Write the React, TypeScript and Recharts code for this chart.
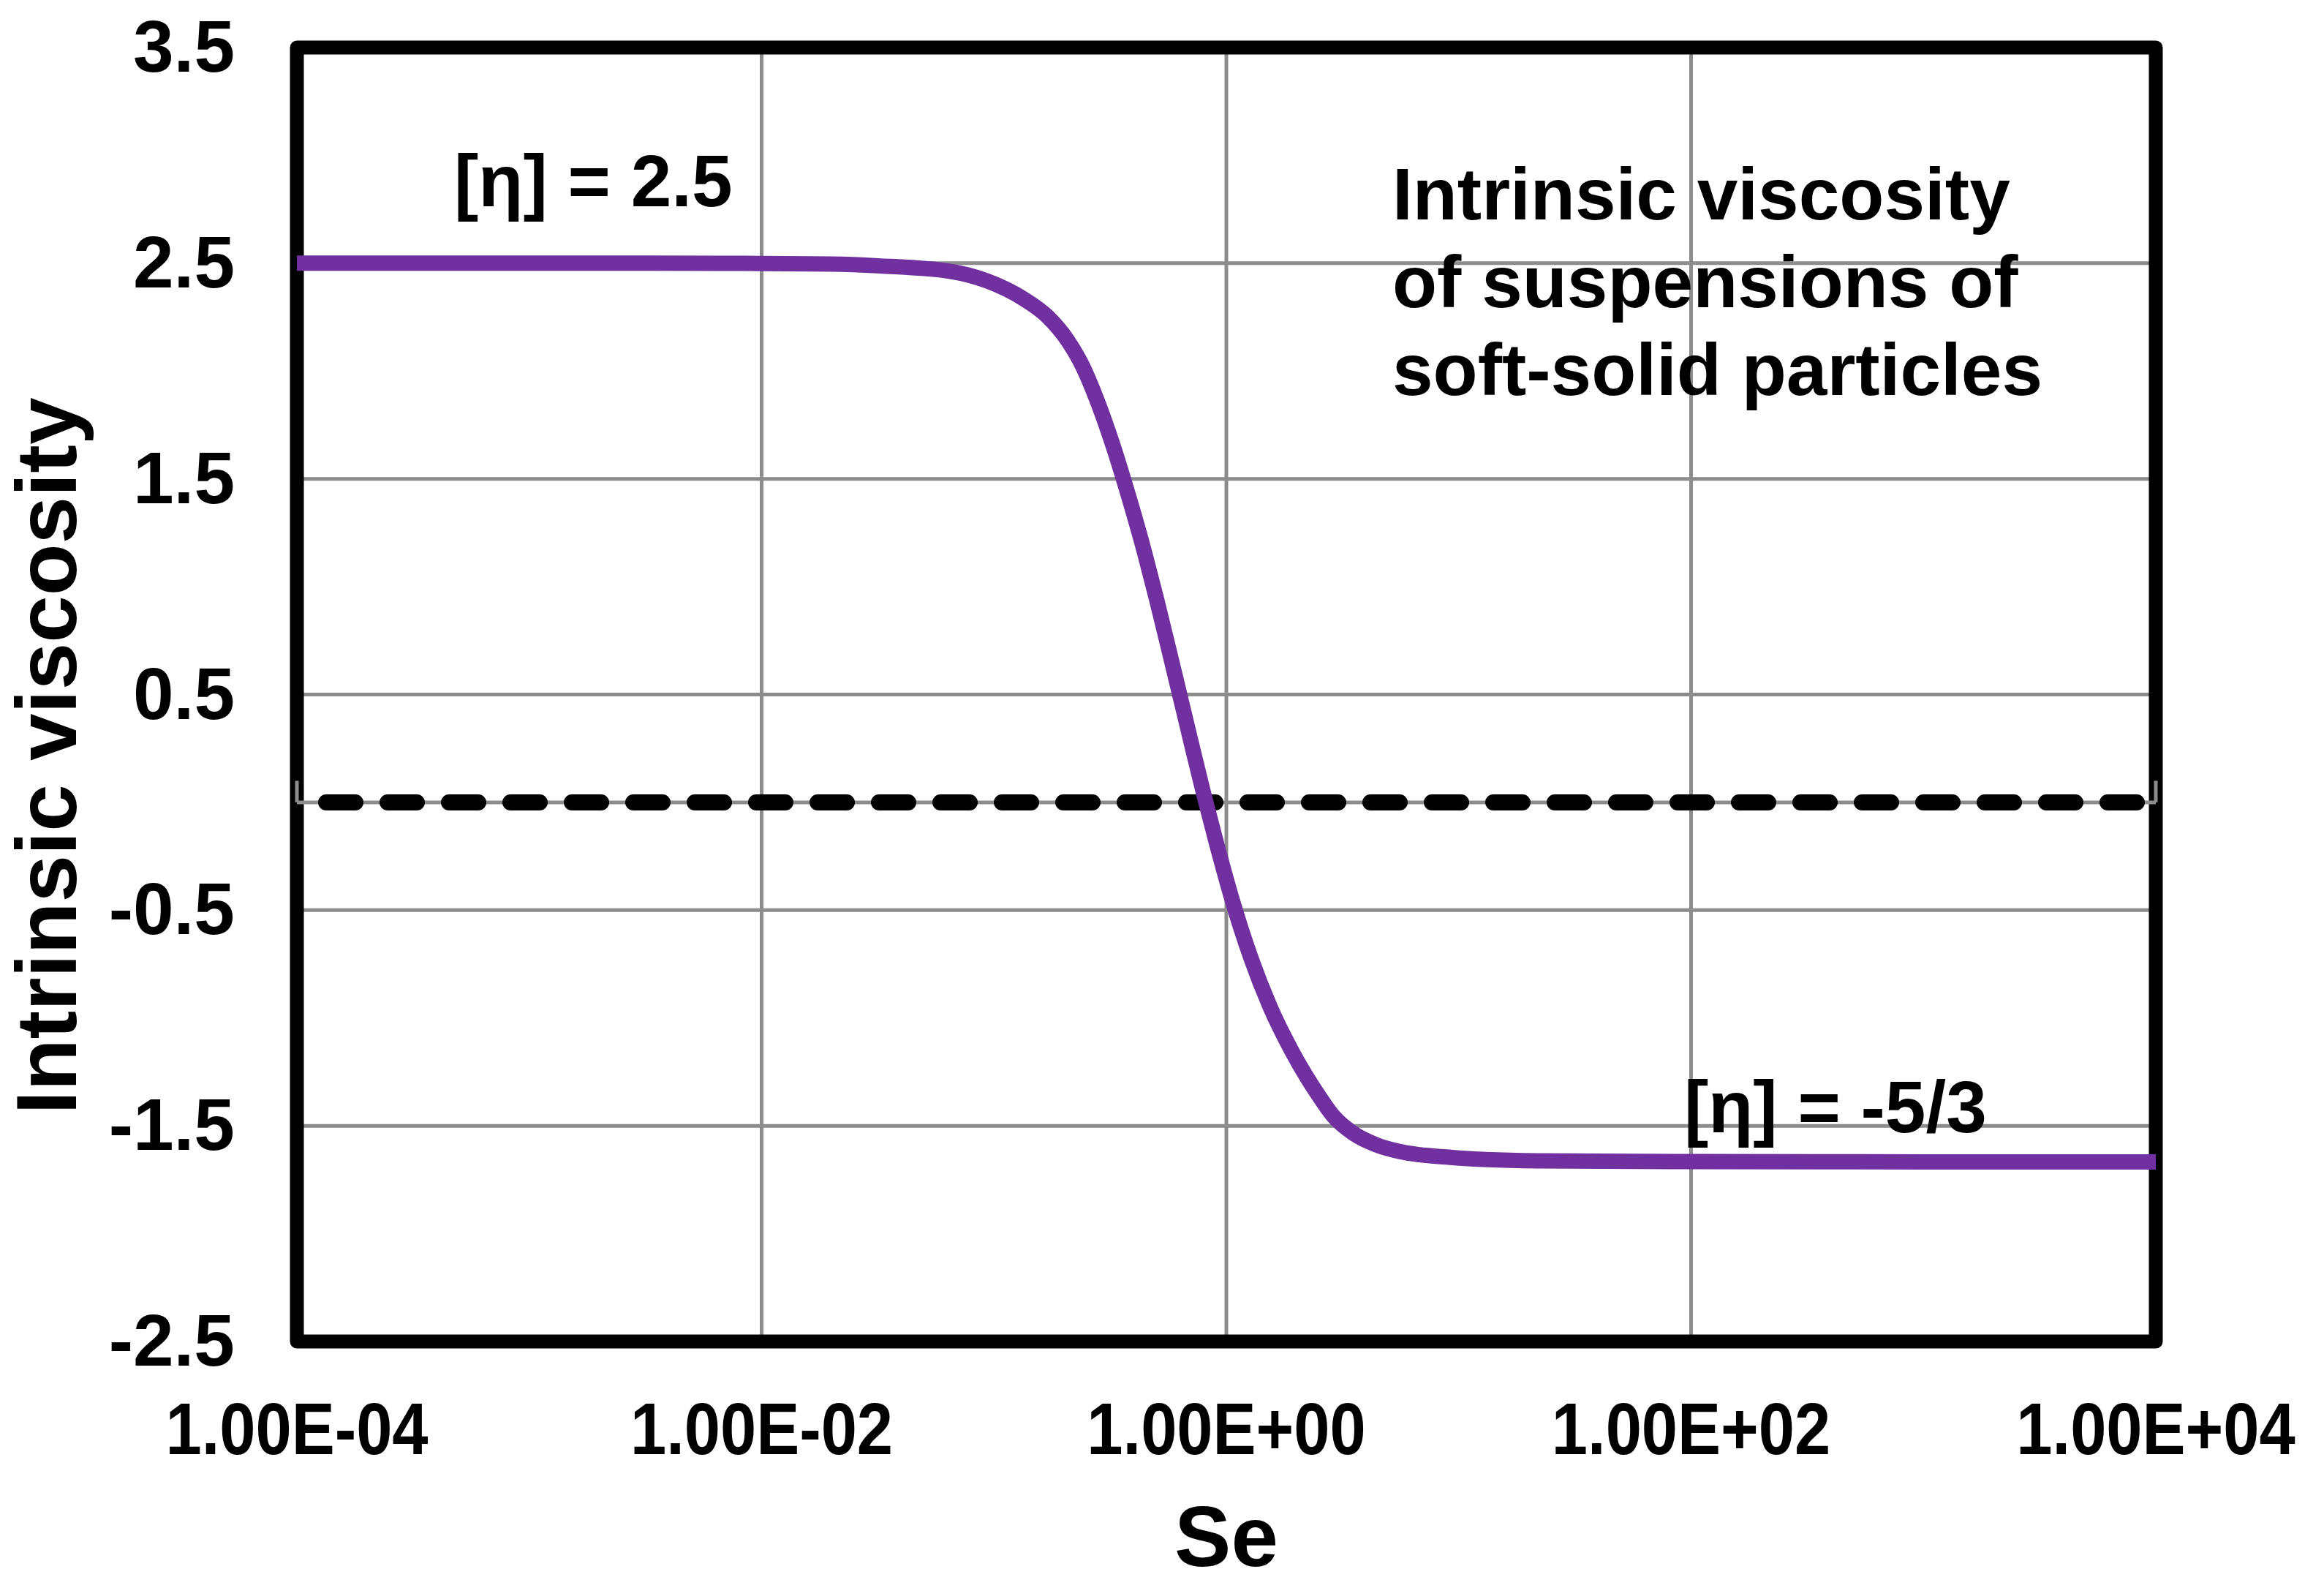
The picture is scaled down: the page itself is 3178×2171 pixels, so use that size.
import {
  CartesianGrid,
  Line,
  LineChart,
  ReferenceArea,
  ReferenceDot,
  ReferenceLine,
  XAxis,
  YAxis,
} from "recharts";

// Curve: Se (log axis) and intrinsic viscosity.
const SE = [
  1e-4, 1e-3, 3.16e-3, 0.01, 0.02, 0.0316, 0.0652, 0.0933, 0.134, 0.171, 0.208, 0.24, 0.277,
  0.324, 0.38, 0.447, 0.501, 0.562, 0.631, 0.708, 0.794, 0.906, 1.079, 1.276, 1.542, 1.901, 2.466,
  2.884, 3.5, 4.467, 5.68, 9.2, 21.4, 100, 1000, 10000,
];
const ETA = [
  2.5, 2.5, 2.5, 2.499, 2.496, 2.488, 2.462, 2.418, 2.335, 2.25, 2.14, 2.025, 1.867,
  1.66, 1.418, 1.149, 0.941, 0.721, 0.496, 0.271, 0.051, -0.188, -0.481, -0.722, -0.948, -1.148, -1.351,
  -1.454, -1.533, -1.59, -1.621, -1.646, -1.662, -1.666, -1.667, -1.667,
];

// Dashed zero reference series.
const ZERO_SE = [1e-4, 1e4];
const ZERO_ETA = [0, 0];

const X_TICKS = [1e-4, 1e-2, 1, 1e2, 1e4];
const X_TICK_LABELS = ["1.00E-04", "1.00E-02", "1.00E+00", "1.00E+02", "1.00E+04"];
const Y_TICKS = [-2.5, -1.5, -0.5, 0.5, 1.5, 2.5, 3.5];
const Y_TICK_LABELS = ["-2.5", "-1.5", "-0.5", "0.5", "1.5", "2.5", "3.5"];

// Text notes, anchored in data coordinates (left edge / first baseline).
const NOTES = [
  { se: 4.75e-4, eta: 2.765, lines: ["[η] = 2.5"] },
  { se: 93.3, eta: -1.529, lines: ["[η] = -5/3"] },
  { se: 5.18, eta: 2.703, lines: ["Intrinsic viscosity", "of suspensions of", "soft-solid particles"] },
];

const curve = SE.map((se, i) => ({ se, eta: ETA[i] }));
const zeroLine = ZERO_SE.map((se, i) => ({ se, eta: ZERO_ETA[i] }));

const FONT = '"Liberation Sans", Arial, Helvetica, sans-serif';
const PURPLE = "#7030A0";
const GRID = "#8c8c8c";

function XTick(p: any) {
  const i = X_TICKS.indexOf(p.payload?.value);
  return (
    <text
      transform={`translate(${p.x},${p.y + 154}) scale(0.885,1)`}
      textAnchor="middle"
      fontFamily={FONT}
      fontWeight={700}
      fontSize={100}
      fill="#000"
    >
      {X_TICK_LABELS[i]}
    </text>
  );
}

function YTick(p: any) {
  const i = Y_TICKS.indexOf(p.payload?.value);
  return (
    <text x={p.x - 85} y={p.y + 33} textAnchor="end" fontFamily={FONT} fontWeight={700} fontSize={100} fill="#000">
      {Y_TICK_LABELS[i]}
    </text>
  );
}

function XTitle(p: any) {
  const { x, y, width } = p.viewBox;
  return (
    <text x={x + width / 2} y={y + 307} textAnchor="middle" fontFamily={FONT} fontWeight={700} fontSize={116} fill="#000">
      Se
    </text>
  );
}

function YTitle(p: any) {
  const { x, y, height } = p.viewBox;
  const cx = x + 104;
  const cy = y + height / 2 + 84;
  return (
    <text
      x={cx}
      y={cy}
      transform={`rotate(-90 ${cx} ${cy})`}
      textAnchor="middle"
      fontFamily={FONT}
      fontWeight={700}
      fontSize={116}
      fill="#000"
    >
      Intrinsic viscosity
    </text>
  );
}

function noteShape(lines: string[]) {
  return (p: any) => (
    <text x={p.cx} y={p.cy} fontFamily={FONT} fontWeight={700} fontSize={100} fill="#000">
      {lines.map((t, i) => (
        <tspan key={i} x={p.cx} dy={i === 0 ? 0 : 120}>
          {t}
        </tspan>
      ))}
    </text>
  );
}

export default function App() {
  return (
    <div style={{ position: "absolute", left: 0, top: 0, width: 3178, height: 2171, background: "#fff" }}>
      <LineChart width={3178} height={2171} margin={{ top: 65, right: 230, bottom: 0, left: 0 }}>
        <CartesianGrid stroke={GRID} strokeWidth={5} />
        <XAxis
          type="number"
          dataKey="se"
          scale="log"
          domain={[1e-4, 1e4]}
          ticks={X_TICKS}
          interval={0}
          allowDataOverflow
          axisLine={false}
          tickLine={false}
          tickSize={0}
          tickMargin={0}
          height={337}
          tick={(p: any) => <XTick {...p} />}
          label={XTitle}
        />
        <YAxis
          type="number"
          dataKey="eta"
          domain={[-2.5, 3.5]}
          ticks={Y_TICKS}
          interval={0}
          allowDataOverflow
          axisLine={false}
          tickLine={false}
          tickSize={0}
          tickMargin={0}
          width={406}
          tick={(p: any) => <YTick {...p} />}
          label={YTitle}
        />
        {/* plot frame */}
        <ReferenceArea
          x1={1e-4}
          x2={1e4}
          y1={-2.5}
          y2={3.5}
          fill="none"
          fillOpacity={0}
          stroke="#000"
          strokeWidth={19}
          strokeLinejoin="round"
          ifOverflow="visible"
          zIndex={50}
        />
        {/* horizontal axis crossing at zero */}
        <ReferenceLine y={0} stroke={GRID} strokeWidth={5} ifOverflow="visible" zIndex={60} />
        <ReferenceLine
          segment={[{ x: 1e-4, y: 0 }, { x: 1e-4, y: 0.1 }]}
          stroke={GRID}
          strokeWidth={5}
          ifOverflow="visible"
          zIndex={60}
        />
        <ReferenceLine
          segment={[{ x: 1e4, y: 0 }, { x: 1e4, y: 0.1 }]}
          stroke={GRID}
          strokeWidth={5}
          ifOverflow="visible"
          zIndex={60}
        />
        <Line
          data={zeroLine}
          dataKey="eta"
          type="linear"
          stroke="#000"
          strokeWidth={22}
          strokeDasharray="40 44"
          strokeDashoffset={44}
          strokeLinecap="round"
          dot={false}
          activeDot={false}
          isAnimationActive={false}
          zIndex={400}
        />
        <Line
          data={curve}
          dataKey="eta"
          type="monotone"
          stroke={PURPLE}
          strokeWidth={21}
          strokeLinecap="butt"
          strokeLinejoin="round"
          dot={false}
          activeDot={false}
          isAnimationActive={false}
          zIndex={410}
        />
        {NOTES.map((n, i) => (
          <ReferenceDot
            key={i}
            x={n.se}
            y={n.eta}
            r={0}
            ifOverflow="visible"
            shape={noteShape(n.lines)}
            zIndex={2000}
          />
        ))}
      </LineChart>
    </div>
  );
}
